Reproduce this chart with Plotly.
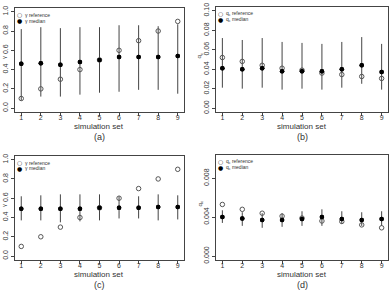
import plotly.graph_objects as go

W, H = 389, 297
sets = [1, 2, 3, 4, 5, 6, 7, 8, 9]

a_ref = [0.1, 0.2, 0.3, 0.4, 0.5, 0.6, 0.7, 0.8, 0.9]
a_med = [0.46, 0.465, 0.45, 0.48, 0.50, 0.53, 0.53, 0.53, 0.54]
a_lo = [0.08, 0.12, 0.12, 0.14, 0.16, 0.17, 0.19, 0.19, 0.15]
a_hi = [0.82, 0.84, 0.83, 0.84, 0.84, 0.86, 0.86, 0.85, 0.87]

b_ref = [0.052, 0.048, 0.044, 0.041, 0.039, 0.036, 0.0345, 0.0325, 0.0305]
b_med = [0.041, 0.040, 0.041, 0.038, 0.038, 0.038, 0.040, 0.044, 0.037]
b_lo = [0.021, 0.020, 0.021, 0.019, 0.020, 0.019, 0.021, 0.025, 0.019]
b_hi = [0.072, 0.070, 0.072, 0.068, 0.067, 0.066, 0.068, 0.073, 0.066]

c_ref = [0.1, 0.2, 0.3, 0.4, 0.5, 0.6, 0.7, 0.8, 0.9]
c_med = [0.49, 0.49, 0.49, 0.49, 0.50, 0.50, 0.50, 0.51, 0.51]
c_lo = [0.37, 0.37, 0.35, 0.36, 0.37, 0.39, 0.39, 0.37, 0.38]
c_hi = [0.62, 0.63, 0.64, 0.64, 0.64, 0.62, 0.62, 0.64, 0.63]

d_ref = [0.0053, 0.0048, 0.0044, 0.0041, 0.0039, 0.0036, 0.00355, 0.0032, 0.0029]
d_med = [0.0040, 0.00385, 0.0037, 0.0037, 0.0038, 0.0040, 0.0038, 0.0037, 0.0038]
d_lo = [0.0034, 0.0031, 0.0029, 0.0030, 0.0031, 0.0031, 0.0033, 0.0031, 0.0031]
d_hi = [0.0047, 0.0045, 0.0044, 0.0044, 0.0046, 0.0048, 0.0046, 0.0045, 0.0046]

FONT = "Liberation Sans, Arial, sans-serif"

def px_x(p):
    return p / W

def px_y(p):
    return 1 - p / H

panels = [
    ("a", a_ref, a_med, a_lo, a_hi, (15, 4, 184, 111), [-0.04, 1.04],
     [0, 0.2, 0.4, 0.6, 0.8, 1.0], ".1f", "γ", "(a)"),
    ("b", b_ref, b_med, b_lo, b_hi, (216, 3, 388, 111), [-0.004, 0.104],
     [0, 0.02, 0.04, 0.06, 0.08, 0.10], ".2f", "q<sub>c</sub>", "(b)"),
    ("c", c_ref, c_med, c_lo, c_hi, (15, 156, 184, 263), [-0.04, 1.04],
     [0, 0.2, 0.4, 0.6, 0.8, 1.0], ".1f", "γ", "(c)"),
    ("d", d_ref, d_med, d_lo, d_hi, (216, 155, 388, 263), [-0.0004, 0.0104],
     [0, 0.004, 0.008], ".3f", "q<sub>c</sub>", "(d)"),
]

fig = go.Figure()
annotations = []
layout = {}

for i, (nm, ref, med, lo, hi, box, yr, ticks, fmt, sym, lab) in enumerate(panels):
    k = "" if i == 0 else str(i + 1)
    xa, ya = "x" + k, "y" + k
    l, t, r, b = box
    err_plus = [h - m for h, m in zip(hi, med)]
    err_minus = [m - lo_ for m, lo_ in zip(med, lo)]
    fig.add_trace(go.Scatter(
        x=sets, y=med, mode="markers", xaxis=xa, yaxis=ya, showlegend=False,
        marker=dict(size=4.5, color="black", symbol="circle"),
        error_y=dict(type="data", array=err_plus, arrayminus=err_minus,
                     width=0, thickness=1, color="#444444"),
    ))
    fig.add_trace(go.Scatter(
        x=sets, y=ref, mode="markers", xaxis=xa, yaxis=ya, showlegend=False,
        marker=dict(size=4.5, color="#555555", symbol="circle-open",
                    line=dict(width=1, color="#555555")),
    ))
    fig.add_trace(go.Scatter(
        x=sets, y=med, mode="markers", xaxis=xa, yaxis=ya, showlegend=False,
        marker=dict(size=4.5, color="black", symbol="circle"),
    ))
    axcommon = dict(showgrid=False, zeroline=False, showline=True, mirror=True,
                    linecolor="#444444", linewidth=1, ticks="outside",
                    ticklen=3, tickcolor="#444444", tickwidth=1,
                    tickfont=dict(family=FONT, size=7, color="#333333"))
    layout["xaxis" + k] = dict(
        domain=[px_x(l), px_x(r)], range=[0.68, 9.32], anchor=ya,
        tickvals=sets, ticktext=[str(s) for s in sets],
        ticklabelstandoff=-4, **axcommon)
    layout["yaxis" + k] = dict(
        domain=[px_y(b), px_y(t)], range=yr, anchor=xa,
        tickvals=ticks, ticktext=[format(v, fmt) for v in ticks],
        tickangle=-90, **axcommon)
    cx = (l + r) / 2
    annotations.append(dict(text="simulation set", x=px_x(cx), y=px_y(b + 14.5),
                            xref="paper", yref="paper", showarrow=False,
                            xanchor="center", yanchor="middle",
                            font=dict(family=FONT, size=8, color="#333333")))
    annotations.append(dict(text=lab, x=px_x(cx), y=px_y(b + 26),
                            xref="paper", yref="paper", showarrow=False,
                            xanchor="center", yanchor="middle",
                            font=dict(family=FONT, size=9, color="#333333")))
    annotations.append(dict(text=sym, x=px_x(l - 11 if i % 2 == 0 else l - 16),
                            y=px_y((t + b) / 2 - 3),
                            xref="paper", yref="paper", showarrow=False,
                            textangle=-90, xanchor="center", yanchor="middle",
                            font=dict(family=FONT, size=6, color="#333333")))
    for j, (mark, txt) in enumerate([("○", sym + " reference"), ("●", sym + " median")]):
        yy = t + 7 + 6 * j
        annotations.append(dict(text=mark, x=px_x(l + 4), y=px_y(yy),
                                xref="paper", yref="paper", showarrow=False,
                                xanchor="center", yanchor="middle",
                                font=dict(family="DejaVu Sans", size=6,
                                          color="#333333" if j == 0 else "black")))
        annotations.append(dict(text=txt, x=px_x(l + 8), y=px_y(yy),
                                xref="paper", yref="paper", showarrow=False,
                                xanchor="left", yanchor="middle",
                                font=dict(family=FONT, size=5, color="#333333")))

fig.update_layout(
    width=W, height=H, margin=dict(l=0, r=0, t=0, b=0),
    paper_bgcolor="white", plot_bgcolor="white",
    annotations=annotations, **layout)

fig.write_html("out.html")
